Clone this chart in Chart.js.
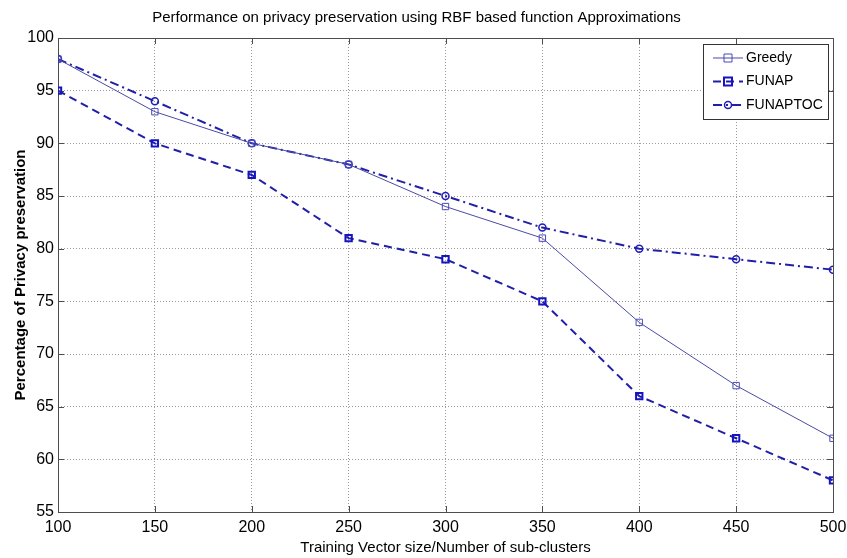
<!DOCTYPE html>
<html>
<head>
<meta charset="utf-8">
<script src="https://cdn.jsdelivr.net/npm/chart.js@4.4.1/dist/chart.umd.min.js"></script>
<style>
  html, body { margin: 0; padding: 0; background: #fff; }
  #wrap { width: 847px; height: 558px; }
</style>
</head>
<body>
<div id="wrap"><canvas id="chart" width="847" height="558"></canvas></div>
<script>
// datos
const trainingSizes = [100, 150, 200, 250, 300, 350, 400, 450, 500];
const greedy = [98, 93, 90, 88, 84, 81, 73, 67, 62];
const funap = [95, 90, 87, 81, 79, 75, 66, 62, 58];
const funaptoc = [98, 94, 90, 88, 85, 82, 80, 79, 78];
const seriesNames = ["Greedy", "FUNAP", "FUNAPTOC"];

const FONT = '"Liberation Sans Narrow", "Arial Narrow", "Liberation Sans", Arial, sans-serif';

function toPoints(values) {
    return trainingSizes.map(function(x, i) { return { x: x, y: values[i] }; });
}

// ticks hacia adentro y marco superior/derecho, estilo MATLAB
const frameTicks = {
    id: "frameTicks",
    beforeDatasetsDraw(chart) {
        const ctx = chart.ctx;
        const a = chart.chartArea;
        const xs = chart.scales.x;
        const ys = chart.scales.y;
        const len = 6;
        ctx.save();
        ctx.strokeStyle = "#4d4d4d";
        ctx.lineWidth = 1;
        ctx.beginPath();
        xs.ticks.forEach(function(t) {
            const px = Math.round(xs.getPixelForValue(t.value)) + 0.5;
            ctx.moveTo(px, a.bottom); ctx.lineTo(px, a.bottom - len);
            ctx.moveTo(px, a.top); ctx.lineTo(px, a.top + len);
        });
        ys.ticks.forEach(function(t) {
            const py = Math.round(ys.getPixelForValue(t.value)) + 0.5;
            ctx.moveTo(a.left, py); ctx.lineTo(a.left + len, py);
            ctx.moveTo(a.right, py); ctx.lineTo(a.right - len, py);
        });
        ctx.stroke();
        ctx.strokeRect(Math.round(a.left) + 0.5, Math.round(a.top) + 0.5,
            Math.round(a.right - a.left), Math.round(a.bottom - a.top));
        ctx.restore();
    }
};

// leyenda con recuadro y muestra de linea + marcador
const boxLegend = {
    id: "boxLegend",
    afterDatasetsDraw(chart) {
        const ctx = chart.ctx;
        const a = chart.chartArea;
        const x0 = a.right - 130, y0 = a.top + 6, w = 125, h = 75;
        ctx.save();
        ctx.fillStyle = "#fff";
        ctx.fillRect(x0, y0, w, h);
        ctx.strokeStyle = "#333";
        ctx.lineWidth = 1;
        ctx.strokeRect(x0 + 0.5, y0 + 0.5, w, h);
        chart.data.datasets.forEach(function(ds, i) {
            const cy = y0 + 14 + i * 23.5;
            ctx.strokeStyle = ds.borderColor;
            ctx.lineWidth = ds.borderWidth;
            ctx.setLineDash(ds.borderDash || []);
            ctx.beginPath();
            ctx.moveTo(x0 + 10, cy);
            ctx.lineTo(x0 + 40, cy);
            ctx.stroke();
            ctx.setLineDash([]);
            ctx.strokeStyle = ds.pointBorderColor;
            ctx.lineWidth = ds.pointBorderWidth;
            ctx.beginPath();
            if (ds.pointStyle === "circle") {
                ctx.arc(x0 + 25, cy, 3.5, 0, Math.PI * 2);
            } else {
                ctx.rect(x0 + 21, cy - 4, 8, 8);
            }
            ctx.stroke();
            ctx.fillStyle = "#000";
            ctx.font = "14px " + FONT;
            ctx.textBaseline = "middle";
            ctx.textAlign = "left";
            ctx.fillText(ds.label, x0 + 43, cy);
        });
        ctx.restore();
    }
};

const ctx = document.getElementById("chart").getContext("2d");
new Chart(ctx, {
    type: "line",
    data: {
        datasets: [{
            label: seriesNames[0],
            data: toPoints(greedy),
            borderColor: "#4a4aa6",
            borderWidth: 1,
            pointStyle: "rect",
            pointRadius: 4.5,
            pointBorderColor: "#4a4ab8",
            pointBorderWidth: 1,
            pointBackgroundColor: "rgba(0,0,0,0)",
            tension: 0
        }, {
            label: seriesNames[1],
            data: toPoints(funap),
            borderColor: "#1f1fa8",
            borderWidth: 2,
            borderDash: [8, 5],
            pointStyle: "rect",
            pointRadius: 4.5,
            pointBorderColor: "#1414c0",
            pointBorderWidth: 2,
            pointBackgroundColor: "rgba(0,0,0,0)",
            tension: 0
        }, {
            label: seriesNames[2],
            data: toPoints(funaptoc),
            borderColor: "#1f1fa8",
            borderWidth: 2,
            borderDash: [9, 4, 2, 4],
            pointStyle: "circle",
            pointRadius: 3.5,
            pointBorderColor: "#1f1fb8",
            pointBorderWidth: 1.5,
            pointBackgroundColor: "rgba(0,0,0,0)",
            tension: 0
        }]
    },
    options: {
        responsive: false,
        animation: false,
        layout: { padding: { left: 0, right: 14, top: 0, bottom: 0 } },
        plugins: {
            legend: { display: false },
            tooltip: { enabled: false },
            title: {
                display: true,
                text: "Performance on privacy preservation using RBF based function Approximations",
                color: "#000",
                font: { family: FONT, size: 15, weight: "normal", lineHeight: 1.2 },
                padding: { top: 9, bottom: 11 }
            }
        },
        scales: {
            x: {
                type: "linear",
                min: 100,
                max: 500,
                ticks: { stepSize: 50, color: "#000", padding: 6, font: { family: FONT, size: 16 } },
                grid: { color: "#9a9a9a", drawTicks: false },
                border: { display: false, dash: [1, 2] },
                title: {
                    display: true,
                    text: "Training Vector size/Number of sub-clusters",
                    color: "#000",
                    font: { family: FONT, size: 15, lineHeight: 1.2 },
                    padding: { top: 0, bottom: 1 }
                },
                afterFit: function(scale) {
                    scale.height = 46;
                    scale.paddingLeft = 0;
                    scale.paddingRight = 0;
                }
            },
            y: {
                min: 55,
                max: 100,
                ticks: { stepSize: 5, color: "#000", padding: 4, font: { family: FONT, size: 16 } },
                grid: { color: "#9a9a9a", drawTicks: false },
                border: { display: false, dash: [1, 2] },
                title: {
                    display: true,
                    text: "Percentage of Privacy preservation",
                    color: "#000",
                    font: { family: "Arial, 'Liberation Sans', sans-serif", size: 15, weight: "bold", lineHeight: 1.2 },
                    padding: { top: 12, bottom: 0 }
                },
                afterFit: function(scale) {
                    scale.width = 58;
                    scale.paddingTop = 0;
                    scale.paddingBottom = 0;
                }
            }
        }
    },
    plugins: [frameTicks, boxLegend]
});
</script>
</body>
</html>
